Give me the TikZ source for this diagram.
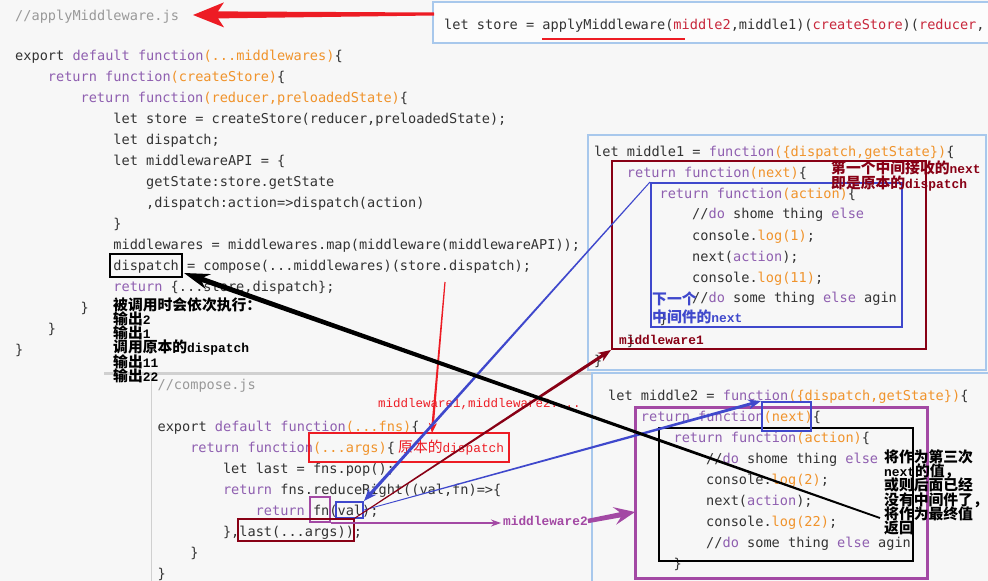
\documentclass[tikz,border=0pt]{standalone}
\usepackage{fontspec}
\setmonofont{DejaVu Sans Mono}
\newfontfamily\cjk{Noto Sans CJK SC}
\newfontfamily\lmono{Liberation Mono}
\usetikzlibrary{calc,arrows.meta}
\definecolor{bg}{HTML}{F7F7F7}
\definecolor{code}{HTML}{333333}
\definecolor{kw}{HTML}{8F5FB0}
\definecolor{par}{HTML}{F0932B}
\definecolor{cmt}{HTML}{999999}
\definecolor{pred}{HTML}{ED1C24}
\definecolor{pdark}{HTML}{880015}
\definecolor{pblue}{HTML}{3F48CC}
\definecolor{ppurp}{HTML}{A349A4}
\definecolor{panel}{HTML}{A8C8EC}
\definecolor{sepc}{HTML}{D0D0D0}
\definecolor{strred}{HTML}{C8283C}
\newcommand\kw[1]{\textcolor{kw}{#1}}
\newcommand\pa[1]{\textcolor{par}{#1}}
\newcommand\sr[1]{\textcolor{strred}{#1}}
\newcommand\lb[1]{{\lmono\bfseries\fontsize{12.9}{14}\selectfont #1}}
\newcommand\lr[1]{{\lmono\fontsize{12.8}{14}\selectfont #1}}
% tapered arrow: start, tip, half width start, half width end, barb distance, barb half width, join distance, colour
\newcommand\tarrow[8]{%
  \coordinate (tH) at ($(#2)!#5!(#1)$);
  \coordinate (tJ) at ($(#2)!#7!(#1)$);
  \fill[#8] ($(#1)!#3!90:(#2)$) -- ($(tJ)!#4!90:(#2)$) -- ($(tH)!#6!90:(#2)$) -- (#2)
     -- ($(tH)!#6!-90:(#2)$) -- ($(tJ)!#4!-90:(#2)$) -- ($(#1)!#3!-90:(#2)$) -- cycle;
}
\tikzset{
  codeline/.style={anchor=base west, inner sep=0pt, text=code, font=\ttfamily\fontsize{13.6}{16}\selectfont},
  cmtline/.style={codeline, text=cmt},
  ann/.style={anchor=base west, inner sep=0pt, font=\cjk\bfseries\fontsize{14.8}{15}\selectfont},
  annr/.style={anchor=base west, inner sep=0pt, font=\cjk\fontsize{14.8}{15}\selectfont},
  hlbox/.style={draw, inner sep=0pt, line width=2pt},
  panelbox/.style={draw=panel, line width=1.6pt, fill=bg, inner sep=0pt},
}
\begin{document}
\begin{tikzpicture}[x=1pt,y=-1pt]
\useasboundingbox (0,0) rectangle (988,581);
\clip (0,0) rectangle (988,581);
\fill[bg] (0,0) rectangle (988,581);

% separators
\coordinate (s1) at (104,373); \coordinate (s2) at (592,373);
\draw[sepc, line width=3pt] (s1) -- (s2);
\coordinate (cb1) at (151,374); \coordinate (cb2) at (151,581);
\draw[sepc, line width=1pt] (cb1) -- (cb2);

% panels
\node[panelbox, fill=white!60!bg, minimum width=562pt, minimum height=41pt] (topbox) at (714,22.5) {};
\node[panelbox, minimum width=398pt, minimum height=235pt] (p1panel) at (787,252.5) {};
\node[panelbox, minimum width=406pt, minimum height=217pt] (p2panel) at (795,481.5) {};

% top line
\node[codeline] (tt) at (444,29) {let store = applyMiddleware(\sr{middle2},middle1)(\sr{createStore})(\sr{reducer},};
\coordinate (ru0) at (542,39); \coordinate (ru9) at (685,39);
\draw[pred, line width=2pt] (ru0) -- (ru9);

% applyMiddleware.js
\node[cmtline] (a0) at (15,20) {//applyMiddleware.js};
\node[codeline] (a1) at (15,60) {export \kw{default function}\pa{(...middlewares)}\{};
\node[codeline] (a2) at (47.7,81) {\kw{return function}\pa{(createStore)}\{};
\node[codeline] (a3) at (80.4,102) {\kw{return function}\pa{(reducer,preloadedState)}\{};
\node[codeline] (a4) at (113.2,123) {let store = createStore(reducer,preloadedState);};
\node[codeline] (a5) at (113.2,144) {let dispatch;};
\node[codeline] (a6) at (113.2,165) {let middlewareAPI = \{};
\node[codeline] (a7) at (145.9,186) {getState:store.getState};
\node[codeline] (a8) at (145.9,207) {,dispatch:action=>dispatch(action)};
\node[codeline] (a9) at (113.2,228) {\}};
\node[codeline] (a10) at (113.2,249) {middlewares = middlewares.map(middleware(middlewareAPI));};
\node[codeline] (a11) at (113.2,270) {dispatch = compose(...middlewares)(store.dispatch);};
\node[codeline] (a12) at (113.2,291) {\kw{return} \{...store,dispatch\};};
\node[codeline] (a13) at (80.4,312) {\}};
\node[codeline] (a14) at (47.7,333) {\}};
\node[codeline] (a15) at (15,354) {\}};

% compose.js
\node[cmtline] (c0) at (157.4,389) {//compose.js};
\node[codeline] (c1) at (157.4,431) {export \kw{default function}\pa{(...fns)}\{};
\node[codeline] (c2) at (190.1,452) {\kw{return function}\pa{(...args)}\{};
\node[codeline] (c3) at (222.8,473) {let last = fns.pop();};
\node[codeline] (c4) at (222.8,494) {\kw{return} fns.reduceRight((val,fn)=>\{};
\node[codeline] (c5) at (255.5,515) {\kw{return} fn(val);};
\node[codeline] (c6) at (222.8,536) {\},last(...args));};
\node[codeline] (c7) at (190.1,557) {\}};
\node[codeline] (c8) at (157.4,578) {\}};

% middle1
\node[codeline] (m1) at (594,156) {let middle1 = \kw{function}\pa{(\{dispatch,getState\})}\{};
\node[codeline] (m2) at (626.7,177) {\kw{return function}\pa{(next)}\{};
\node[codeline] (m3) at (659.4,198) {\kw{return function}\pa{(action)}\{};
\node[codeline] (m4) at (692,218) {//\kw{do} shome thing \kw{else}};
\node[codeline] (m5) at (692,240) {console.\pa{log(1)};};
\node[codeline] (m6) at (692,261) {next(\kw{action});};
\node[codeline] (m7) at (692,282) {console.\pa{log(11)};};
\node[codeline] (m8) at (692,302) {//\kw{do} some thing \kw{else} agin};
\node[codeline] (m9) at (659.4,323) {\}};
\node[codeline] (m10) at (626.7,345) {\}};
\node[codeline] (m11) at (594,365) {\}};

% middle2
\node[codeline] (n1) at (608,400) {let middle2 = \kw{function}\pa{(\{dispatch,getState\})}\{};
\node[codeline] (n2) at (640.7,421) {\kw{return function}\pa{(next)}\{};
\node[codeline] (n3) at (673.4,442) {\kw{return function}\pa{(action)}\{};
\node[codeline] (n4) at (706,463) {//\kw{do} shome thing \kw{else}};
\node[codeline] (n5) at (706,484) {console.\pa{log(2)};};
\node[codeline] (n6) at (706,505) {next(\kw{action});};
\node[codeline] (n7) at (706,526) {console.\pa{log(22)};};
\node[codeline] (n8) at (706,547) {//\kw{do} some thing \kw{else} agin};
\node[codeline] (n9) at (673.4,568) {\}};

% highlight boxes
\node[hlbox, draw=black, minimum width=72pt, minimum height=23pt] (dbox) at (146,265.5) {};
\node[hlbox, draw=pred, minimum width=200pt, minimum height=29pt] (rbox) at (409,447.5) {};
\node[hlbox, draw=ppurp, minimum width=20pt, minimum height=25pt] (fbox) at (320,509.5) {};
\node[hlbox, draw=pblue, minimum width=27pt, minimum height=16pt] (vbox) at (349.5,510) {};
\node[hlbox, draw=pdark, minimum width=116pt, minimum height=22pt] (lbox) at (296,530) {};
\node[hlbox, draw=pdark, minimum width=314pt, minimum height=188pt] (m1box) at (769,255) {};
\node[hlbox, draw=pblue, minimum width=251pt, minimum height=144pt] (bbox) at (776.5,255) {};
\node[hlbox, draw=ppurp, line width=3pt, minimum width=292pt, minimum height=171pt] (p2box) at (781,492.5) {};
\node[hlbox, draw=black, minimum width=254pt, minimum height=133pt] (kbox) at (786,494.5) {};
\node[hlbox, draw=pblue, minimum width=49pt, minimum height=29pt] (nbox) at (786.5,416.5) {};

% annotations
\node[ann] (t1) at (113,310.5) {被调用时会依次执行：};
\node[ann] (t2) at (113,324.5) {输出\lb{2}};
\node[ann] (t3) at (113,338.5) {输出\lb{1}};
\node[ann] (t4) at (113,352.5) {调用原本的\lb{dispatch}};
\node[ann] (t5) at (113,367) {输出\lb{11}};
\node[ann] (t6) at (113,381) {输出\lb{22}};

\node[annr, text=pred] (ra) at (398,452.5) {原本的\lr{dispatch}};
\node[anchor=base west, inner sep=0pt, text=pred, font=\lmono\fontsize{12.5}{14}\selectfont] (rb) at (378,407.5) {middleware1,middleware2....};

\node[ann, text=pdark] (d1) at (831,173.5) {第一个中间接收的\lb{next}};
\node[ann, text=pdark] (d2) at (831,188.5) {即是原本的\lb{dispatch}};
\node[ann, text=pblue] (b1) at (652,304) {下一个};
\node[ann, text=pblue] (b2) at (652,322.5) {中间件的\lb{next}};
\node[anchor=base west, inner sep=0pt, text=pdark, font=\lmono\bfseries\fontsize{12.8}{14}\selectfont] (d3) at (619,344) {middleware1};
\node[anchor=west, inner sep=0pt, text=ppurp, font=\lmono\bfseries\fontsize{12.8}{14}\selectfont] (m2t) at (503,521) {middleware2};

\node[ann] (k1) at (884,462.5) {将作为第三次};
\node[ann] (k2) at (884,476.5) {\lb{next}的值，};
\node[ann] (k3) at (884,490.5) {或则后面已经};
\node[ann] (k4) at (884,505) {没有中间件了，};
\node[ann] (k5) at (884,519.5) {将作为最终值};
\node[ann] (k6) at (884,533.5) {返回};

% arrows
\coordinate (ta0) at (434,14); \coordinate (ta1) at (193,15);
\tarrow{ta0}{ta1}{1.5pt}{3.5pt}{31pt}{12.5pt}{25pt}{pred}
\coordinate (rs) at (445,282); \coordinate (rt) at (432,433);
\tarrow{rs}{rt}{0.6pt}{1.2pt}{10pt}{4pt}{8pt}{pred}
\tarrow{bbox.north west}{vbox.north east}{0.5pt}{1.6pt}{13pt}{5pt}{10pt}{pblue}
\tarrow{vbox.east}{nbox.north west}{0.4pt}{1.5pt}{13pt}{5pt}{10pt}{pblue}
\tarrow{lbox.north east}{m1box.south west}{0.5pt}{1.6pt}{13pt}{5pt}{10pt}{pdark}
\coordinate (bk0) at (880,518); \coordinate (bk1) at (184,273);
\tarrow{bk0}{bk1}{0.9pt}{2.6pt}{26pt}{8pt}{20pt}{black}
\draw[ppurp, line width=1.3pt, -{Stealth[length=10pt,width=7pt]}, shorten >=2pt] (fbox.south east) -- (fbox.south east -| m2t.west);
\coordinate (pp1) at (635,512);
\tarrow{m2t.east}{pp1}{2.2pt}{2.6pt}{21pt}{9pt}{15pt}{ppurp}
\end{tikzpicture}
\end{document}
